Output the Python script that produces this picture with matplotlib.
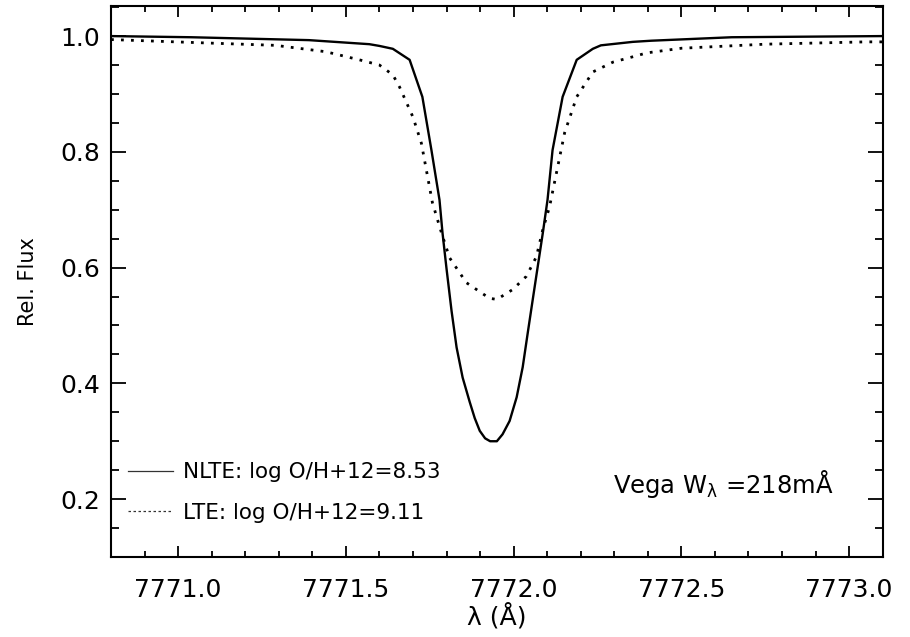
import matplotlib
matplotlib.use("Agg")
import matplotlib.pyplot as plt
from matplotlib.lines import Line2D
from matplotlib.ticker import MultipleLocator, FormatStrFormatter

# O I 7772 line profiles for Vega
nlte_wave = [7770.80, 7771.04, 7771.39, 7771.57, 7771.60, 7771.64, 7771.69,
             7771.728, 7771.755, 7771.779, 7771.788, 7771.800, 7771.815,
             7771.830, 7771.848, 7771.869, 7771.884, 7771.899, 7771.915,
             7771.930, 7771.950, 7771.967, 7771.988, 7772.009, 7772.027,
             7772.042, 7772.057, 7772.087, 7772.101, 7772.116, 7772.146,
             7772.188, 7772.236, 7772.260, 7772.355, 7772.410, 7772.650,
             7773.100]
nlte_flux = [1.000, 0.998, 0.993, 0.986, 0.983, 0.978, 0.959,
             0.895, 0.803, 0.717, 0.660, 0.598, 0.525,
             0.462, 0.410, 0.368, 0.340, 0.318, 0.305,
             0.300, 0.300, 0.312, 0.335, 0.376, 0.428,
             0.487, 0.545, 0.660, 0.717, 0.803, 0.895,
             0.959, 0.978, 0.984, 0.990, 0.992, 0.998,
             1.000]

lte_wave = [7770.80, 7771.09, 7771.29, 7771.44, 7771.54, 7771.60, 7771.64,
            7771.66, 7771.70, 7771.725, 7771.758, 7771.785, 7771.809,
            7771.859, 7771.928, 7771.950, 7771.997, 7772.038, 7772.068,
            7772.087, 7772.107, 7772.152, 7772.188, 7772.236, 7772.296,
            7772.360, 7772.397, 7772.500, 7772.750, 7773.050, 7773.100]
lte_flux = [0.994, 0.988, 0.984, 0.973, 0.959, 0.950, 0.933,
            0.912, 0.860, 0.815, 0.712, 0.660, 0.617,
            0.574, 0.547, 0.545, 0.562, 0.585, 0.619,
            0.666, 0.705, 0.833, 0.895, 0.938, 0.955,
            0.965, 0.971, 0.979, 0.986, 0.990, 0.990]

nlte_label = "NLTE: log O/H+12=8.53"
lte_label = "LTE: log O/H+12=9.11"
note = r"Vega W$_\lambda$ =218mÅ"

plt.rcParams['font.family'] = ['DejaVu Sans']
plt.rcParams['mathtext.default'] = 'regular'

fig = plt.figure(figsize=(9.1, 6.37), dpi=100)
ax = fig.add_axes([0.122, 0.1256, 0.848, 0.8650])

ax.plot(nlte_wave, nlte_flux, color='black', lw=1.7)
ax.plot(lte_wave, lte_flux, color='black', lw=2.0, linestyle=(0, (1, 2.6)))

ax.set_xlim(7770.8, 7773.1)
ax.set_ylim(0.1, 1.052)

ax.xaxis.set_major_locator(MultipleLocator(0.5))
ax.xaxis.set_minor_locator(MultipleLocator(0.1))
ax.yaxis.set_major_locator(MultipleLocator(0.2))
ax.yaxis.set_minor_locator(MultipleLocator(0.05))
ax.xaxis.set_major_formatter(FormatStrFormatter('%.1f'))
ax.yaxis.set_major_formatter(FormatStrFormatter('%.1f'))

ax.tick_params(axis='both', which='both', direction='in', top=True, right=True,
               width=1.3, color='black')
ax.tick_params(axis='x', which='major', length=8, pad=15, labelsize=18)
ax.tick_params(axis='x', which='minor', length=4.5)
ax.tick_params(axis='y', which='major', length=11, pad=8, labelsize=18)
ax.tick_params(axis='y', which='minor', length=5.5)
for s in ax.spines.values():
    s.set_linewidth(1.5)

ax.set_xlabel("λ (Å)", fontsize=18, labelpad=1)
ax.set_ylabel("Rel. Flux", fontsize=15, labelpad=16)

handles = [Line2D([], [], color='#333333', lw=0.9),
           Line2D([], [], color='#333333', lw=0.9, linestyle=(0, (2, 2)))]
ax.legend(handles, [nlte_label, lte_label], loc='lower left',
          bbox_to_anchor=(0.022, 0.062), frameon=False, fontsize=15.5,
          handlelength=2.1, handletextpad=0.45, labelspacing=0.95,
          borderpad=0, borderaxespad=0)

ax.text(0.650, 0.116, note, transform=ax.transAxes, fontsize=17.5,
        ha='left', va='baseline')

fig.savefig("out.png", dpi=100)
